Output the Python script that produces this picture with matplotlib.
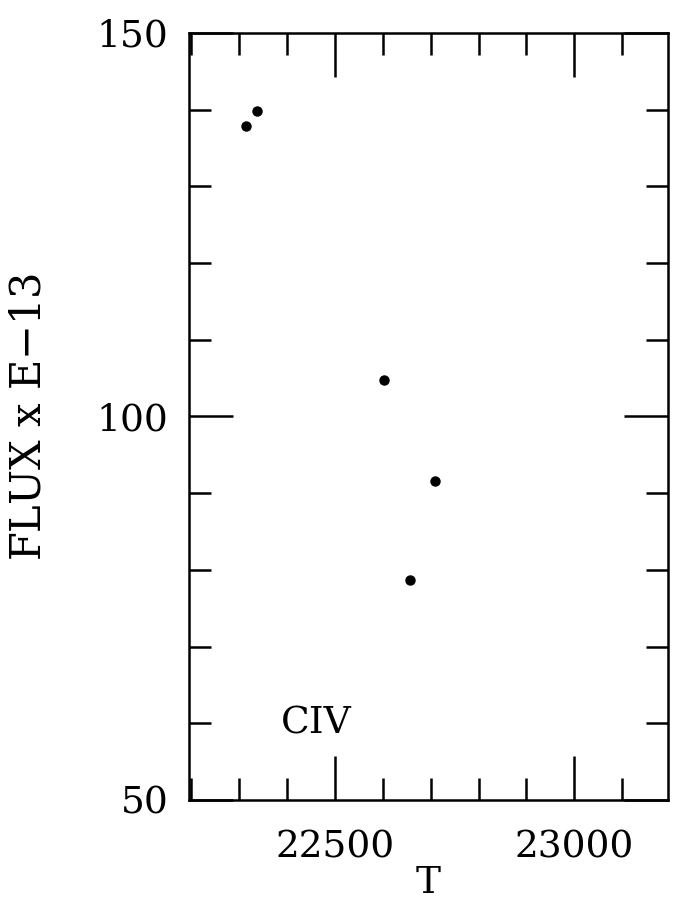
import matplotlib
matplotlib.use("Agg")
import matplotlib.pyplot as plt
from matplotlib.ticker import MultipleLocator

# data
temp = [22314, 22337, 22602, 22709, 22657]
flux = [137.9, 139.8, 104.8, 91.6, 78.7]

plt.rcParams['font.family'] = ['DejaVu Serif']

fig = plt.figure(figsize=(6.76, 9.06), dpi=100)
ax = fig.add_axes([0.2796, 0.117, 0.708, 0.8466])

ax.plot(temp, flux, 'o', color='black', markersize=6.5)

ax.set_xlim(22195, 23195)
ax.set_ylim(50, 150)
ax.xaxis.set_major_locator(MultipleLocator(500))
ax.xaxis.set_minor_locator(MultipleLocator(100))
ax.yaxis.set_major_locator(MultipleLocator(50))
ax.yaxis.set_minor_locator(MultipleLocator(10))

ax.tick_params(which='both', direction='in', top=True, right=True,
               width=1.8, labelsize=27)
ax.tick_params(axis='x', which='major', pad=21)
ax.tick_params(axis='y', which='major', pad=15)
ax.tick_params(which='major', length=32)
ax.tick_params(which='minor', length=16)
for sp in ax.spines.values():
    sp.set_linewidth(1.8)

ax.set_xlabel('T', fontsize=27, labelpad=0)
ax.set_ylabel('FLUX x E$-$13', fontsize=30, labelpad=34)
ax.text(22460, 60.0, 'CIV', fontsize=27, ha='center', va='center')

fig.savefig('out.png', dpi=100)
